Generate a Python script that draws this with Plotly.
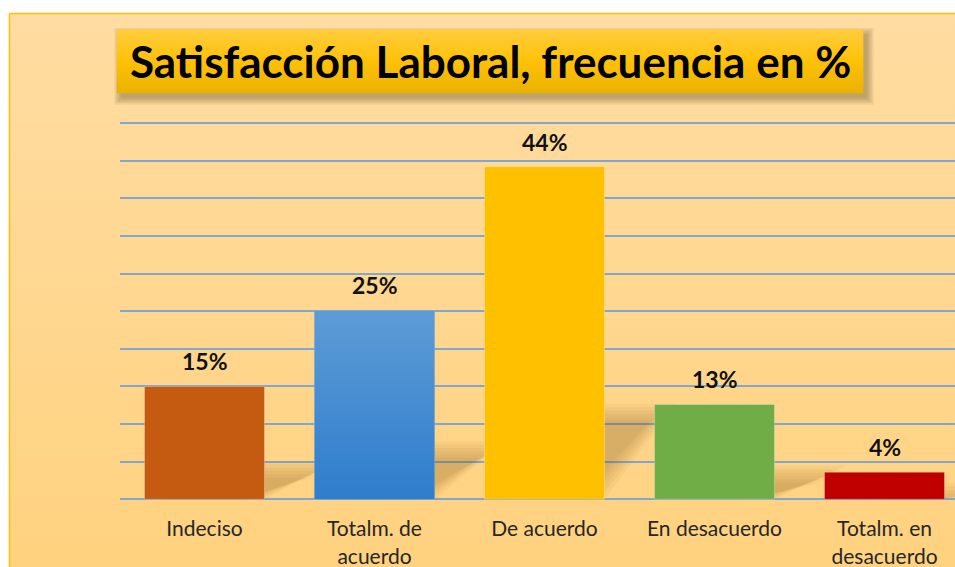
import plotly.graph_objects as go

# ----------------------------------------------------------------------
# datos del gráfico
categorias = ["Indeciso", "Totalm. de<br>acuerdo", "De acuerdo",
              "En desacuerdo", "Totalm. en<br>desacuerdo"]
frecuencia = [15.0, 25.1, 44.2, 12.6, 3.6]
etiquetas = [f"{round(v)}%" for v in frecuencia]
colores = ["#C55A11", "#4A8ED3", "#FFC000", "#70AD47", "#C00000"]
y_grid = [0, 5, 10, 15, 20, 25, 30, 35, 40, 45, 50]
titulo = "Satisfacción Laboral, frecuencia en %"

# ----------------------------------------------------------------------
# geometría (px)
W, H = 955, 567
PLOT_L = 119.5          # borde izquierdo del área de trazado
PX_CAT = 170            # ancho de cada categoría
Y0_PX = 499.3           # línea base (0 %)
PX_PCT = 7.526          # px por punto porcentual
BAR_W = 120 / 170
FONT = "Lato, 'Noto Sans', sans-serif"

x_rng = [-0.5, -0.5 + (W - PLOT_L) / PX_CAT]
y_rng = [-0.5, 50.5]
x_dom = [PLOT_L / W, 1]
y_dom = [(H - (Y0_PX - y_rng[0] * PX_PCT)) / H,
         (H - (Y0_PX - y_rng[1] * PX_PCT)) / H]

fig = go.Figure()


def rect(x0, y0, x1, y1):
    return [x0, x1, x1, x0, x0], [y0, y0, y1, y1, y0]


# --- fondo del gráfico (ejes en px) -----------------------------------
bx, by = rect(9.5, 13.5, 975, 590)
fig.add_trace(go.Scatter(
    x=bx, y=by, mode="lines", fill="toself", xaxis="x", yaxis="y",
    line=dict(color="#FFC000", width=1.5),
    fillgradient=dict(type="vertical", start=13.5, stop=567,
                      colorscale=[[0, "#FFDCA2"], [1, "#FFD27F"]]),
    hoverinfo="skip", showlegend=False,
))

# sombra del cuadro del título
TB = (116.7, 29.3, 863.3, 93.3)
for k in range(5):
    e = k * 1.6
    sx, sy = rect(TB[0] + 4 - e, TB[1] + 5 - e, TB[2] + 4 + e, TB[3] + 5 + e)
    fig.add_trace(go.Scatter(
        x=sx, y=sy, mode="lines", fill="toself", xaxis="x", yaxis="y",
        line=dict(width=0), fillcolor="rgba(60,40,0,0.07)",
        hoverinfo="skip", showlegend=False,
    ))

# cuadro del título
tx, ty = rect(*TB)
fig.add_trace(go.Scatter(
    x=tx, y=ty, mode="lines", fill="toself", xaxis="x", yaxis="y",
    line=dict(width=0),
    fillgradient=dict(type="vertical", start=TB[1], stop=TB[3],
                      colorscale=[[0, "#FFCD3E"], [0.5, "#FFC107"],
                                  [1, "#E9B200"]]),
    hoverinfo="skip", showlegend=False,
))

# --- sombras de las barras (x2/y2, debajo de las barras) --------------
for i, v in enumerate(frecuencia):
    for j in range(6):
        d = j * 0.03
        h = 0.26 * v + 1.2 - j * 0.45
        s = 0.42
        xl, xr = i - BAR_W / 2 + d, i + BAR_W / 2 - d
        fig.add_trace(go.Scatter(
            x=[xl, xr, xr + s, xl + s, xl], y=[0, 0, h, h, 0],
            mode="lines", fill="toself", xaxis="x2", yaxis="y2",
            line=dict(width=0), fillcolor="rgba(110,70,20,0.05)",
            hoverinfo="skip", showlegend=False,
        ))

# --- barras (x3/y3) ----------------------------------------------------
fig.add_trace(go.Bar(
    x=list(range(len(categorias))), y=frecuencia, width=BAR_W,
    xaxis="x3", yaxis="y3",
    marker=dict(color=colores,
                line=dict(width=1, color="rgba(255,255,255,0.25)")),
    hoverinfo="skip", showlegend=False,
))

# degradado de la barra azul
ib = 1
gx = [ib - BAR_W / 2, ib + BAR_W / 2, ib + BAR_W / 2, ib - BAR_W / 2, ib - BAR_W / 2]
gy = [0, 0, frecuencia[ib], frecuencia[ib], 0]
fig.add_trace(go.Scatter(
    x=gx, y=gy, mode="lines", fill="toself", xaxis="x3", yaxis="y3",
    line=dict(width=0),
    fillgradient=dict(type="vertical", start=0, stop=frecuencia[ib],
                      colorscale=[[0, "#2F7DCC"], [1, "#5D9CD6"]]),
    hoverinfo="skip", showlegend=False,
))

# etiquetas de datos
for i, (v, t) in enumerate(zip(frecuencia, etiquetas)):
    fig.add_annotation(
        x=i, y=v, xref="x3", yref="y3", text=f"<b>{t}</b>",
        showarrow=False, yanchor="bottom", yshift=9,
        font=dict(family=FONT, size=23, color="#111111"),
    )

# título
fig.add_annotation(
    x=(TB[0] + TB[2]) / 2 / W, y=1 - (TB[1] + TB[3]) / 2 / H,
    xref="paper", yref="paper", text=f"<b>{titulo}</b>", showarrow=False,
    xanchor="center", yanchor="middle",
    font=dict(family=FONT, size=44, color="#000000"),
)

fig.update_layout(
    width=W, height=H,
    margin=dict(l=0, r=0, t=0, b=0, autoexpand=False),
    paper_bgcolor="white", plot_bgcolor="rgba(0,0,0,0)",
    showlegend=False,
    xaxis=dict(domain=[0, 1], range=[0, W], visible=False, fixedrange=True,
               automargin=False),
    yaxis=dict(domain=[0, 1], range=[H, 0], visible=False, fixedrange=True,
               automargin=False),
    xaxis2=dict(domain=x_dom, range=x_rng, visible=False, anchor="y2",
                automargin=False),
    yaxis2=dict(domain=y_dom, range=y_rng, anchor="x2", automargin=False,
                tickvals=y_grid, showticklabels=False, showgrid=True,
                gridcolor="#7FA7D0", gridwidth=1.5, zeroline=False,
                showline=False, ticks=""),
    xaxis3=dict(domain=x_dom, range=x_rng, anchor="y3", automargin=False,
                tickvals=list(range(len(categorias))), ticktext=categorias,
                showgrid=False, zeroline=False, showline=False,
                ticks="outside", ticklen=7, tickcolor="rgba(0,0,0,0)",
                tickfont=dict(family=FONT, size=21, color="#262626")),
    yaxis3=dict(domain=y_dom, range=y_rng, anchor="x3", visible=False,
                automargin=False),
)

fig.write_html(
    "out.html",
    config={"displayModeBar": False},
    post_script="document.body.style.margin='0';"
                "document.body.style.overflow='hidden';",
)
